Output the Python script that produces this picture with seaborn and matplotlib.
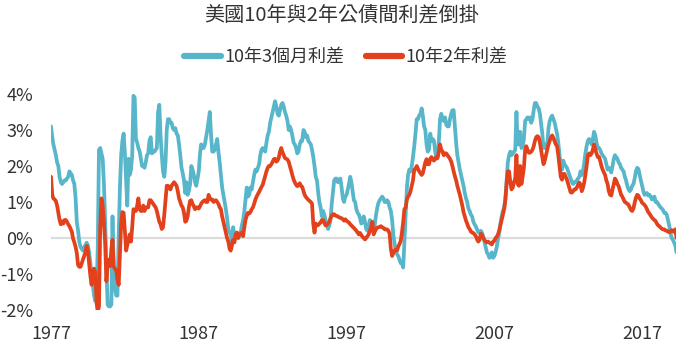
import numpy as np
import pandas as pd
import matplotlib
matplotlib.use("Agg")
import matplotlib.pyplot as plt
from matplotlib.lines import Line2D
import seaborn as sns

# ---- chart text and series ----
title = "美國10年與2年公債間利差倒掛"
series_names = ["10年3個月利差", "10年2年利差"]
series_colors = ["#57B6C9", "#E2411B"]
first_month = "1977-01"          # monthly observations start here
year_ticks = ["1977", "1987", "1997", "2007", "2017"]
pct_ticks = [-2, -1, 0, 1, 2, 3, 4]

# 10-year minus 3-month Treasury spread (%), monthly, one row per year
spread_10y_3m = [
    3.1, 2.8, 2.6, 2.45, 2.3, 2.1, 2.0, 1.7, 1.55, 1.5, 1.55, 1.6,          # 1977
    1.6, 1.65, 1.7, 1.85, 1.8, 1.75, 1.6, 1.5, 1.1, 0.45, 0.2, -0.1,        # 1978
    -0.25, -0.3, -0.35, -0.25, -0.2, -0.13, -0.2, -0.4, -0.7, -1.05, -1.3, -1.6,  # 1979
    -1.75, -1.45, -0.3, 2.45, 2.5, 2.35, 2.2, 1.5, 0.45, -0.8, -1.85, -1.9,  # 1980
    -1.9, -1.85, 0.6, -0.9, -1.4, -1.6, -1.6, 0.05, 1.4, 2.3, 2.7, 2.9,     # 1981
    2.35, 1.6, 0.9, 2.2, 1.75, 1.9, 2.3, 3.95, 3.9, 2.75, 2.65, 2.5,        # 1982
    2.4, 2.2, 2.0, 2.0, 1.95, 2.1, 2.3, 2.35, 2.7, 2.8, 2.35, 2.4,          # 1983
    2.4, 2.45, 2.5, 3.5, 3.7, 2.85, 2.3, 1.85, 1.7, 2.1, 3.0, 3.3,          # 1984
    3.3, 3.2, 3.2, 3.05, 3.0, 3.05, 2.9, 2.85, 2.6, 2.3, 1.95, 1.8,         # 1985
    1.6, 1.25, 1.55, 1.2, 1.3, 1.5, 2.0, 1.9, 1.75, 1.55, 1.45, 1.65,       # 1986
    1.85, 2.35, 2.6, 2.5, 2.5, 2.6, 2.8, 3.0, 3.25, 3.5, 2.85, 2.4,         # 1987
    2.4, 2.45, 2.6, 2.75, 2.4, 2.1, 1.75, 1.4, 1.2, 1.0, 0.8, 0.55,         # 1988
    0.25, 0.15, 0.1, -0.15, 0.3, 0.05, 0.1, 0.15, 0.0, 0.05, 0.15, 0.35,    # 1989
    0.5, 0.75, 1.05, 1.4, 1.15, 1.2, 1.4, 1.35, 1.55, 1.75, 1.9, 1.85,      # 1990
    1.95, 2.05, 2.3, 2.45, 2.5, 2.45, 2.4, 2.65, 2.85, 2.95, 3.2, 3.35,     # 1991
    3.5, 3.65, 3.8, 3.65, 3.45, 3.4, 3.55, 3.7, 3.75, 3.65, 3.5, 3.4,       # 1992
    3.25, 3.0, 3.1, 3.0, 2.85, 2.65, 2.6, 2.5, 2.35, 2.4, 2.6, 2.7,         # 1993
    2.7, 3.0, 2.95, 2.8, 2.85, 2.7, 2.65, 2.6, 2.45, 2.25, 2.0, 1.7,        # 1994
    1.6, 1.25, 1.0, 0.85, 0.6, 0.75, 0.65, 0.5, 0.35, 0.25, 0.35, 0.5,      # 1995
    0.95, 1.3, 1.6, 1.65, 1.65, 1.55, 1.6, 1.65, 1.4, 1.1, 1.0, 1.15,       # 1996
    1.2, 1.35, 1.5, 1.7, 1.55, 1.3, 1.05, 1.0, 0.8, 0.7, 0.65, 0.55,        # 1997
    0.4, 0.45, 0.6, 0.45, 0.25, 0.2, 0.35, 0.5, 0.45, 0.35, 0.15, 0.4,      # 1998
    0.65, 0.85, 0.98, 1.05, 1.1, 1.15, 1.1, 1.0, 1.0, 1.05, 1.0, 0.85,      # 1999
    0.75, 0.5, 0.1, -0.15, -0.35, -0.45, -0.5, -0.6, -0.7, -0.7, -0.82, -0.1,  # 2000
    0.6, 1.4, 1.75, 1.9, 1.85, 2.0, 2.25, 2.55, 2.9, 3.3, 3.3, 3.4,         # 2001
    3.45, 3.6, 3.4, 3.1, 3.0, 2.6, 2.4, 2.45, 2.9, 2.7, 2.75, 2.7,          # 2002
    2.4, 2.2, 2.3, 2.7, 3.3, 3.45, 3.3, 3.25, 3.35, 3.15, 3.1, 3.1,         # 2003
    3.3, 3.45, 3.55, 3.55, 3.1, 2.65, 2.3, 2.1, 1.9, 1.75, 1.6, 1.45,       # 2004
    1.25, 1.1, 1.0, 0.82, 0.75, 0.65, 0.6, 0.45, 0.38, 0.32, 0.24, 0.16,    # 2005
    0.15, 0.2, 0.15, 0.05, -0.1, -0.25, -0.4, -0.45, -0.55, -0.5, -0.4, -0.55,  # 2006
    -0.5, -0.4, -0.25, -0.05, 0.15, 0.4, 0.6, 0.75, 0.85, 1.1, 1.6, 2.1,    # 2007
    2.3, 2.4, 2.3, 2.35, 2.4, 2.45, 3.5, 2.6, 2.6, 2.95, 2.5, 2.55,         # 2008
    2.75, 3.25, 3.3, 3.35, 3.3, 3.35, 3.2, 3.3, 3.55, 3.75, 3.75, 3.65,     # 2009
    3.6, 3.45, 3.2, 2.9, 2.5, 2.5, 2.6, 2.6, 3.05, 3.25, 3.35, 3.4,         # 2010
    3.3, 3.2, 3.05, 2.9, 2.65, 2.3, 2.0, 1.9, 2.15, 2.05, 2.0, 1.95,        # 2011
    1.85, 1.75, 1.65, 1.55, 1.5, 1.55, 1.55, 1.6, 1.65, 1.7, 1.85, 1.75,    # 2012
    1.85, 2.1, 2.35, 2.55, 2.7, 2.75, 2.7, 2.6, 2.75, 2.95, 2.85, 2.65,     # 2013
    2.5, 2.5, 2.45, 2.35, 2.3, 2.25, 2.2, 2.05, 1.9, 1.95, 1.9, 1.82,       # 2014
    2.0, 2.2, 2.3, 2.25, 2.2, 2.1, 2.05, 1.95, 1.9, 1.85, 1.7, 1.6,         # 2015
    1.45, 1.35, 1.3, 1.35, 1.45, 1.5, 1.65, 1.85, 1.95, 1.92, 1.75, 1.6,    # 2016
    1.45, 1.3, 1.2, 1.22, 1.25, 1.18, 1.2, 1.15, 1.07, 1.12, 1.15, 1.0,     # 2017
    1.0, 0.95, 0.9, 0.85, 0.82, 0.78, 0.7, 0.7, 0.65, 0.5, 0.35, 0.15,      # 2018
    0.0, -0.05, -0.12, -0.2, -0.4,                                          # 2019
]

# 10-year minus 2-year Treasury spread (%), monthly, one row per year
spread_10y_2y = [
    1.7, 1.2, 1.1, 1.07, 1.03, 0.9, 0.7, 0.5, 0.38, 0.46, 0.4, 0.5,         # 1977
    0.5, 0.45, 0.38, 0.33, 0.25, 0.17, -0.02, -0.12, -0.25, -0.42, -0.75, -0.8,  # 1978
    -0.8, -0.7, -0.6, -0.5, -0.4, -0.22, -0.35, -0.7, -1.05, -1.3, -0.9, -0.85,  # 1979
    -0.95, -1.8, -2.05, -1.9, 0.3, 1.1, 0.9, 0.4, -0.15, -1.2, -0.8, -0.6,  # 1980
    -0.78, -0.3, -0.05, -0.8, -0.85, -0.9, -1.15, -1.3, -0.45, 0.4, 0.72, 0.7,  # 1981
    0.2, -0.35, -0.2, -0.05, 0.1, -0.1, 0.3, 0.8, 0.75, 0.75, 0.9, 1.1,     # 1982
    0.8, 0.75, 0.75, 0.9, 0.75, 0.85, 0.85, 0.85, 1.05, 1.05, 1.0, 0.95,    # 1983
    0.9, 0.85, 0.75, 0.6, 0.45, 0.38, 0.25, 0.3, 0.65, 1.05, 1.45, 1.45,    # 1984
    1.4, 1.35, 1.45, 1.5, 1.55, 1.5, 1.45, 1.3, 1.1, 1.0, 0.9, 0.85,        # 1985
    0.7, 0.45, 0.48, 0.6, 0.85, 1.03, 1.05, 0.95, 0.88, 0.8, 0.85, 0.85,    # 1986
    0.82, 0.88, 0.95, 1.0, 1.03, 1.05, 1.0, 1.0, 1.2, 1.1, 1.07, 1.07,      # 1987
    1.0, 1.03, 1.05, 1.0, 0.95, 0.85, 0.8, 0.6, 0.45, 0.3, 0.15, 0.0,       # 1988
    -0.1, -0.3, -0.35, -0.2, -0.05, -0.12, 0.1, 0.15, 0.0, 0.1, 0.12, 0.15,  # 1989
    0.05, 0.3, 0.5, 0.62, 0.7, 0.68, 0.72, 0.8, 0.85, 0.95, 1.07, 1.15,     # 1990
    1.22, 1.28, 1.35, 1.42, 1.48, 1.6, 1.72, 1.85, 1.95, 2.0, 2.0, 2.05,    # 1991
    2.12, 2.19, 2.2, 2.12, 2.15, 2.23, 2.4, 2.5, 2.38, 2.3, 2.22, 2.2,      # 1992
    2.18, 2.12, 2.0, 1.88, 1.75, 1.63, 1.55, 1.48, 1.44, 1.46, 1.52, 1.45,  # 1993
    1.42, 1.3, 1.2, 1.14, 1.1, 1.06, 1.03, 1.0, 0.95, 0.4, 0.15, 0.4,       # 1994
    0.35, 0.36, 0.4, 0.43, 0.5, 0.5, 0.42, 0.35, 0.36, 0.4, 0.45, 0.55,     # 1995
    0.62, 0.66, 0.66, 0.62, 0.61, 0.6, 0.57, 0.56, 0.55, 0.52, 0.48, 0.52,  # 1996
    0.48, 0.45, 0.43, 0.38, 0.35, 0.31, 0.28, 0.24, 0.2, 0.15, 0.1, 0.14,   # 1997
    0.08, 0.03, 0.0, -0.04, 0.0, 0.05, 0.1, 0.2, 0.3, 0.45, 0.1, 0.18,      # 1998
    0.25, 0.29, 0.3, 0.31, 0.33, 0.3, 0.28, 0.24, 0.24, 0.24, 0.2, 0.12,    # 1999
    -0.3, -0.5, -0.42, -0.35, -0.32, -0.35, -0.24, -0.17, -0.08, 0.15, 0.45, 0.8,  # 2000
    0.85, 1.07, 1.15, 1.2, 1.3, 1.45, 1.6, 1.9, 1.92, 2.0, 1.92, 1.85,      # 2001
    1.8, 1.75, 1.8, 1.95, 2.1, 2.19, 2.05, 2.05, 2.2, 2.25, 2.18, 2.15,     # 2002
    2.2, 2.25, 2.22, 2.4, 2.6, 2.45, 2.4, 2.3, 2.35, 2.35, 2.3, 2.25,       # 2003
    2.2, 2.12, 2.0, 1.85, 1.72, 1.6, 1.45, 1.32, 1.2, 1.05, 0.9, 0.72,      # 2004
    0.6, 0.48, 0.4, 0.3, 0.25, 0.18, 0.15, 0.14, 0.1, 0.05, -0.04, -0.1,    # 2005
    -0.05, 0.12, 0.08, 0.0, -0.05, -0.1, -0.12, -0.1, -0.13, -0.15, -0.18, -0.1,  # 2006
    -0.08, 0.0, 0.03, 0.1, 0.2, 0.35, 0.5, 0.65, 0.8, 1.05, 1.5, 1.85,      # 2007
    1.85, 1.55, 1.35, 1.4, 1.55, 1.65, 2.3, 1.5, 1.45, 2.0, 1.5, 1.7,       # 2008
    1.95, 2.45, 2.55, 2.45, 2.37, 2.37, 2.4, 2.45, 2.55, 2.7, 2.8, 2.83,    # 2009
    2.8, 2.65, 2.45, 2.25, 2.05, 2.15, 2.3, 2.45, 2.6, 2.7, 2.8, 2.85,      # 2010
    2.78, 2.68, 2.6, 2.55, 2.3, 2.0, 1.7, 1.62, 1.78, 1.78, 1.7, 1.62,      # 2011
    1.5, 1.38, 1.27, 1.26, 1.3, 1.35, 1.35, 1.4, 1.48, 1.54, 1.48, 1.3,     # 2012
    1.4, 1.55, 1.75, 2.0, 2.3, 2.35, 2.3, 2.35, 2.45, 2.6, 2.45, 2.35,      # 2013
    2.25, 2.25, 2.15, 2.0, 1.9, 1.82, 1.75, 1.6, 1.5, 1.3, 1.2, 1.18,       # 2014
    1.35, 1.5, 1.65, 1.6, 1.5, 1.44, 1.32, 1.2, 1.15, 1.07, 1.0, 0.98,      # 2015
    0.95, 0.92, 0.85, 0.78, 0.75, 0.82, 0.98, 1.12, 1.2, 1.18, 1.1, 1.05,   # 2016
    0.98, 0.95, 0.92, 0.87, 0.8, 0.72, 0.68, 0.62, 0.57, 0.53, 0.5, 0.47,   # 2017
    0.4, 0.35, 0.33, 0.29, 0.26, 0.24, 0.24, 0.21, 0.2, 0.18, 0.16, 0.18,   # 2018
    0.22, 0.2, 0.17, 0.24, 0.0,                                             # 2019
]

# ---- long-form table for seaborn ----
n = len(spread_10y_3m)
months = pd.date_range(first_month, periods=n, freq="MS")
df = pd.DataFrame({
    "month": list(months) * 2,
    "spread": spread_10y_3m + spread_10y_2y,
    "series": [series_names[0]] * n + [series_names[1]] * n,
})

sns.set_theme(style="white")
plt.rcParams["font.family"] = ["Noto Sans CJK TC", "DejaVu Sans"]
text_color = "#333333"

W, H = 680, 344
fig = plt.figure(figsize=(W / 100, H / 100), dpi=100)
ax_left, ax_right, ax_top, ax_bottom = 51, 676.5, 94, 310
ax = fig.add_axes([ax_left / W, 1 - ax_bottom / H,
                   (ax_right - ax_left) / W, (ax_bottom - ax_top) / H])

ax.axhline(0, color="#DCDCDC", lw=1.6, zorder=0)
sns.lineplot(data=df, x="month", y="spread", hue="series",
             hue_order=series_names, palette=series_colors,
             linewidth=2.7, estimator=None, legend=False, ax=ax)

ax.set_xlim(months[0], months[-1])
ax.set_ylim(min(pct_ticks), max(pct_ticks))
ax.set_yticks(pct_ticks)
ax.set_yticklabels([f"{v}%" for v in pct_ticks])
ax.set_xticks([pd.Timestamp(f"{y}-01-01") for y in year_ticks])
ax.set_xticklabels(year_ticks)
ax.set_xlabel("")
ax.set_ylabel("")
ax.tick_params(axis="both", length=0, labelsize=13, colors=text_color)
ax.tick_params(axis="y", pad=13)
ax.tick_params(axis="x", pad=11)
sns.despine(ax=ax, left=True, bottom=True)
ax.grid(False)

fig.text(342 / W, 1 - 15 / H, title, ha="center", va="center",
         fontsize=14.5, color=text_color)

handles = [Line2D([0], [0], color=c, lw=4.5) for c in series_colors]
fig.legend(handles, series_names, loc="center",
           bbox_to_anchor=(346 / W, 1 - 57 / H), ncol=2, frameon=False,
           fontsize=13, handlelength=2.0, handletextpad=0.2,
           columnspacing=1.2, labelcolor=text_color)

fig.savefig("out.png", dpi=100)
